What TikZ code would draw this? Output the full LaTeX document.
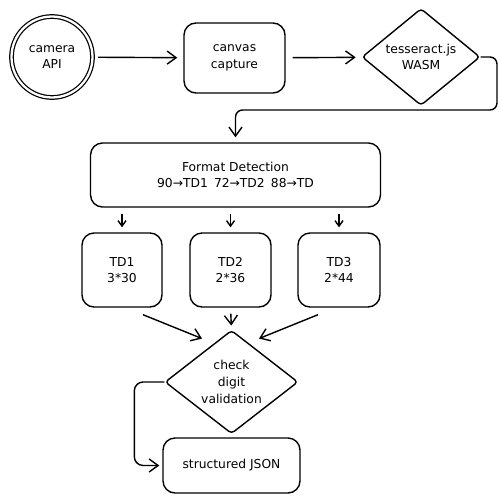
\documentclass[tikz,border=0pt]{standalone}
\usepackage{fontspec}
\setmainfont{DejaVu Sans}
\usepackage{tikz}
\usetikzlibrary{arrows.meta,shapes.geometric,positioning,calc}

\begin{document}
\begin{tikzpicture}[
        x=0.02cm,y=-0.02cm,
        line width=0.8pt,
        font=\fontsize{7}{9.5}\selectfont,
        box/.style={rectangle,draw,rounded corners=0.24cm,align=center},
        decision/.style={diamond,draw,rounded corners=2pt,inner sep=0pt,align=center},
        source/.style={circle,draw,double,double distance=1.3pt,line width=0.7pt,minimum size=1.62cm,align=center},
        arrow/.style={-{Straight Barb[length=1.8mm,width=2.6mm]}},
        smallarrow/.style={-{Straight Barb[length=1.1mm,width=1.6mm]}},
    ]
    \useasboundingbox (0,0) rectangle (500,500);

    % === TOP: capture pipeline ===
    \node[source] (cam) at (52,57) {camera\\API};
    \node[box,minimum width=2.02cm,minimum height=1.4cm] (canvas) at (234.5,58) {canvas\\capture};
    \node[decision,minimum width=2.36cm,minimum height=1.84cm] (tess) at (421,57) {tesseract.js\\WASM};
    \draw[arrow,shorten <=0.1cm,shorten >=0.12cm] (cam) -- (canvas);
    \draw[arrow,shorten <=0.14cm,shorten >=0.12cm] (canvas) -- (tess);

    % === MIDDLE: format detection ===
    \node[box,minimum width=5.8cm,minimum height=1.28cm] (fmt) at (235.5,175) {Format Detection\\90→TD1\enspace 72→TD2\enspace 88→TD};
    \coordinate (turn) at (497,110);
    \draw[arrow,rounded corners=4pt,shorten >=0.1cm] (tess.east) -| (turn) -| (fmt.north);

    \node[box,minimum width=1.6cm,minimum height=1.48cm] (td1) at (122,270) {TD1\\3*30};
    \node[box,minimum width=1.62cm,minimum height=1.48cm] (td2) at (230.5,270) {TD2\\2*36};
    \node[box,minimum width=1.64cm,minimum height=1.48cm] (td3) at (339,270) {TD3\\2*44};
    \foreach \td in {td1,td2,td3}
        \draw[smallarrow,shorten <=0.12cm,shorten >=0.1cm] (fmt.south -| \td.north) -- (\td.north);

    % === BOTTOM: validation ===
    \node[decision,minimum width=2.66cm,minimum height=1.8cm] (check) at (231.5,382) {check\\digit\\validation};
    \node[box,minimum width=2.74cm,minimum height=1.1cm] (json) at (231.5,465.5) {structured JSON};

    \draw[arrow] ([xshift=0.42cm,yshift=-0.14cm]td1.south) -- ([xshift=-0.59cm,yshift=-0.18cm]check.north);
    \draw[arrow,shorten <=0.12cm,shorten >=0.08cm] (td2.south) -- (check.north);
    \draw[arrow] ([xshift=-0.42cm,yshift=-0.14cm]td3.south) -- ([xshift=0.55cm,yshift=-0.18cm]check.north);
    \draw[arrow,rounded corners=5pt,shorten >=0.06cm] (check.west) -- ++(-30,0) |- (json.west);
\end{tikzpicture}
\end{document}
